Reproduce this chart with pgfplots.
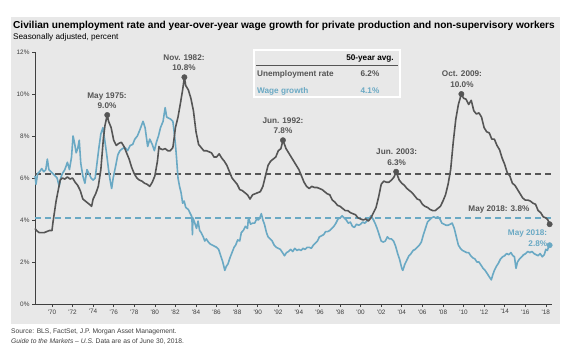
\documentclass[border=0pt]{standalone}
\usepackage{fontspec}
\setmainfont{Liberation Sans}
\usepackage{pgfplots}
\pgfplotsset{compat=1.18}
\definecolor{panel}{HTML}{E8E8E8}
\definecolor{dgray}{HTML}{555555}
\definecolor{wblue}{HTML}{6AA9C4}
\definecolor{tgray}{HTML}{404040}

\pgfplotstableread{
x y
1968.35 3.6
1968.5 3.5
1968.75 3.4
1969.0 3.4
1969.25 3.4
1969.5 3.45
1969.75 3.5
1970.0 3.5
1970.1 3.9
1970.25 4.4
1970.4 4.9
1970.6 5.4
1970.8 5.9
1971.0 6.0
1971.25 5.95
1971.5 6.05
1971.75 5.95
1972.0 6.0
1972.25 5.8
1972.5 5.65
1972.75 5.4
1973.0 5.0
1973.25 4.9
1973.5 4.8
1973.75 4.7
1973.85 4.65
1974.0 5.0
1974.25 5.25
1974.5 5.6
1974.75 6.4
1975.0 7.9
1975.15 8.5
1975.37 9.0
1975.5 8.7
1975.75 8.4
1976.0 7.8
1976.25 7.55
1976.5 7.65
1976.75 7.7
1977.0 7.5
1977.25 7.2
1977.5 6.9
1977.75 6.5
1978.0 6.2
1978.25 6.0
1978.5 5.9
1978.75 5.85
1979.0 5.75
1979.25 5.7
1979.5 5.6
1979.75 5.8
1980.0 6.1
1980.25 6.8
1980.4 7.5
1980.5 7.4
1980.75 7.35
1981.0 7.4
1981.25 7.3
1981.5 7.3
1981.75 7.45
1981.9 8.0
1982.0 8.4
1982.25 8.9
1982.5 9.6
1982.7 10.2
1982.87 10.8
1983.0 10.4
1983.25 10.2
1983.5 9.8
1983.75 9.2
1984.0 8.2
1984.25 7.6
1984.5 7.45
1984.75 7.3
1985.0 7.3
1985.25 7.25
1985.5 7.2
1985.75 7.0
1986.0 7.0
1986.25 7.15
1986.5 6.95
1986.75 6.8
1987.0 6.6
1987.25 6.3
1987.5 6.0
1987.75 5.85
1988.0 5.7
1988.25 5.45
1988.5 5.4
1988.75 5.3
1989.0 5.2
1989.25 5.0
1989.5 5.2
1989.75 5.25
1990.0 5.3
1990.25 5.35
1990.5 5.6
1990.75 6.1
1991.0 6.6
1991.25 6.8
1991.5 6.9
1991.75 7.0
1992.0 7.3
1992.25 7.4
1992.45 7.8
1992.6 7.6
1992.75 7.4
1993.0 7.2
1993.25 7.0
1993.5 6.8
1993.75 6.6
1994.0 6.4
1994.25 6.1
1994.5 5.8
1994.75 5.6
1995.0 5.5
1995.25 5.6
1995.5 5.55
1995.75 5.55
1996.0 5.5
1996.25 5.45
1996.5 5.35
1996.75 5.25
1997.0 5.2
1997.25 4.95
1997.5 4.85
1997.75 4.7
1998.0 4.65
1998.25 4.55
1998.5 4.45
1998.75 4.45
1999.0 4.35
1999.25 4.3
1999.5 4.25
1999.75 4.1
2000.0 4.05
2000.25 4.0
2000.5 4.05
2000.75 3.95
2001.0 4.1
2001.25 4.35
2001.5 4.6
2001.75 5.1
2002.0 5.7
2002.25 5.85
2002.5 5.8
2002.75 5.8
2003.0 5.9
2003.25 6.05
2003.45 6.3
2003.6 6.1
2003.75 5.9
2004.0 5.75
2004.25 5.65
2004.5 5.5
2004.75 5.4
2005.0 5.3
2005.25 5.15
2005.5 5.0
2005.75 4.95
2006.0 4.75
2006.25 4.65
2006.5 4.6
2006.75 4.5
2007.0 4.45
2007.25 4.45
2007.5 4.55
2007.75 4.65
2008.0 4.9
2008.25 5.2
2008.5 5.7
2008.75 6.4
2009.0 7.7
2009.25 8.8
2009.5 9.5
2009.79 10.0
2010.0 9.8
2010.25 9.75
2010.5 9.5
2010.75 9.7
2011.0 9.2
2011.25 9.05
2011.5 9.1
2011.75 8.9
2012.0 8.4
2012.25 8.2
2012.5 8.15
2012.75 7.85
2013.0 7.85
2013.25 7.55
2013.5 7.35
2013.75 6.95
2014.0 6.65
2014.25 6.25
2014.5 6.1
2014.75 5.75
2015.0 5.65
2015.25 5.45
2015.5 5.25
2015.75 5.05
2016.0 4.95
2016.25 4.95
2016.5 4.9
2016.75 4.8
2017.0 4.75
2017.25 4.45
2017.5 4.35
2017.75 4.15
2018.0 4.1
2018.2 4.0
2018.37 3.8
}\unemp

\pgfplotstableread{
x y
1968.35 6.1
1968.45 5.7
1968.6 6.2
1968.8 6.3
1969.0 6.45
1969.2 6.3
1969.4 6.4
1969.55 6.9
1969.7 6.4
1969.9 6.3
1970.1 6.2
1970.3 6.1
1970.5 6.0
1970.7 5.6
1970.85 6.0
1971.0 6.2
1971.25 6.4
1971.5 6.75
1971.7 6.4
1971.9 7.0
1972.05 8.0
1972.2 7.65
1972.35 7.2
1972.5 7.4
1972.65 7.8
1972.8 6.7
1973.0 6.1
1973.2 5.75
1973.4 6.4
1973.6 6.2
1973.8 6.0
1974.0 5.9
1974.2 6.0
1974.4 6.8
1974.55 7.4
1974.75 8.1
1974.95 8.4
1975.1 7.9
1975.3 7.2
1975.5 6.4
1975.65 5.9
1975.8 5.5
1975.95 6.0
1976.2 6.6
1976.4 7.1
1976.6 7.3
1976.85 7.4
1977.1 7.45
1977.35 7.3
1977.6 7.55
1977.85 7.6
1978.05 7.85
1978.3 8.0
1978.55 8.3
1978.85 8.7
1979.05 8.4
1979.3 7.5
1979.5 7.85
1979.75 7.6
1979.95 7.3
1980.15 7.7
1980.35 8.0
1980.55 8.4
1980.8 8.7
1981.0 9.35
1981.15 8.9
1981.35 8.85
1981.55 8.8
1981.75 8.7
1981.85 8.3
1982.0 7.6
1982.1 7.0
1982.25 6.0
1982.4 5.6
1982.55 5.3
1982.7 4.8
1982.85 4.9
1983.0 4.6
1983.25 4.5
1983.45 4.3
1983.6 4.15
1983.65 3.3
1983.7 4.1
1983.85 3.9
1984.05 3.6
1984.2 3.95
1984.35 3.5
1984.5 3.4
1984.7 3.2
1984.85 3.0
1985.0 3.1
1985.2 2.95
1985.4 2.85
1985.6 2.8
1985.8 2.75
1986.0 2.7
1986.2 2.6
1986.4 2.3
1986.6 2.0
1986.8 1.6
1986.95 1.8
1987.1 1.9
1987.3 2.2
1987.5 2.45
1987.7 2.7
1987.85 2.8
1988.05 3.05
1988.25 3.0
1988.4 3.4
1988.6 3.5
1988.8 3.7
1989.0 3.6
1989.1 4.1
1989.3 3.8
1989.5 3.85
1989.7 3.85
1989.9 4.05
1990.05 4.0
1990.2 4.1
1990.35 4.3
1990.5 4.0
1990.65 3.8
1990.85 3.4
1991.0 3.2
1991.2 3.1
1991.4 3.0
1991.6 2.8
1991.8 2.7
1992.0 2.65
1992.2 2.6
1992.4 2.45
1992.6 2.3
1992.8 2.45
1993.0 2.5
1993.2 2.6
1993.4 2.5
1993.6 2.65
1993.8 2.55
1994.0 2.6
1994.2 2.55
1994.4 2.65
1994.6 2.6
1994.8 2.7
1995.0 2.7
1995.2 2.65
1995.4 2.8
1995.6 2.9
1995.8 3.0
1996.0 3.2
1996.2 3.25
1996.4 3.3
1996.6 3.45
1996.8 3.45
1997.0 3.5
1997.2 3.6
1997.4 3.7
1997.6 3.85
1997.8 4.05
1998.0 4.1
1998.2 4.2
1998.4 4.1
1998.6 4.0
1998.8 3.85
1999.0 3.9
1999.2 3.7
1999.4 3.65
1999.6 3.8
1999.8 3.75
2000.0 3.8
2000.2 3.9
2000.4 3.85
2000.6 3.95
2000.8 4.05
2001.0 4.2
2001.2 4.05
2001.4 3.85
2001.6 3.6
2001.8 3.3
2002.0 3.0
2002.2 2.95
2002.4 3.0
2002.6 3.2
2002.8 3.1
2003.0 3.1
2003.2 3.0
2003.4 2.75
2003.6 2.4
2003.8 2.1
2004.0 1.7
2004.1 1.6
2004.3 1.9
2004.5 2.1
2004.7 2.3
2004.9 2.4
2005.1 2.55
2005.3 2.6
2005.5 2.7
2005.7 2.8
2005.9 2.95
2006.1 3.3
2006.3 3.6
2006.5 3.9
2006.7 4.0
2006.9 4.1
2007.1 4.15
2007.3 4.1
2007.5 4.15
2007.7 4.05
2007.9 3.85
2008.1 3.8
2008.3 3.75
2008.5 3.75
2008.7 3.8
2008.9 3.85
2009.1 3.6
2009.3 3.2
2009.5 2.8
2009.7 2.65
2009.9 2.55
2010.1 2.5
2010.3 2.45
2010.5 2.45
2010.7 2.3
2010.9 2.2
2011.1 2.15
2011.3 2.0
2011.5 2.0
2011.7 1.85
2011.9 1.7
2012.1 1.6
2012.3 1.45
2012.5 1.3
2012.7 1.15
2012.85 1.4
2013.0 1.6
2013.2 1.8
2013.4 1.95
2013.6 2.15
2013.8 2.25
2014.0 2.3
2014.2 2.4
2014.4 2.35
2014.6 2.45
2014.8 2.3
2014.95 2.25
2015.1 1.7
2015.25 2.0
2015.45 2.15
2015.65 2.25
2015.85 2.35
2016.05 2.4
2016.25 2.5
2016.45 2.45
2016.65 2.5
2016.85 2.4
2017.05 2.35
2017.25 2.3
2017.45 2.4
2017.65 2.25
2017.85 2.35
2018.0 2.6
2018.15 2.55
2018.25 2.7
2018.37 2.8
}\wage

\begin{document}
\begin{tikzpicture}
\useasboundingbox (0pt,0pt) rectangle (573pt,-356pt);
\fill[white] (0pt,0pt) rectangle (573pt,-356pt);
\fill[panel] (11pt,-17pt) rectangle (560pt,-324pt);
\node[anchor=west,inner sep=0pt,font=\fontsize{10.1}{12}\selectfont\bfseries,text=black] at (13pt,-26pt) {Civilian unemployment rate and year-over-year wage growth for private production and non-supervisory workers};
\node[anchor=west,inner sep=0pt,font=\fontsize{8.2}{9}\selectfont,text=black] at (13pt,-37.5pt) {Seasonally adjusted, percent};

\begin{axis}[
  at={(35pt,-304pt)}, anchor=south west,
  scale only axis, width=517pt, height=252pt,
  xmin=1968.35, xmax=2018.6, ymin=0, ymax=12,
  axis x line*=bottom, axis y line*=left,
  axis line style={tgray, line width=0.8pt, -},
  xtick={1970,1972,1974,1976,1978,1980,1982,1984,1986,1988,1990,1992,1994,1996,1998,2000,2002,2004,2006,2008,2010,2012,2014,2016,2018},
  xticklabels={\textquotesingle70,\textquotesingle72,\textquotesingle74,\textquotesingle76,\textquotesingle78,\textquotesingle80,\textquotesingle82,\textquotesingle84,\textquotesingle86,\textquotesingle88,\textquotesingle90,\textquotesingle92,\textquotesingle94,\textquotesingle96,\textquotesingle98,\textquotesingle00,\textquotesingle02,\textquotesingle04,\textquotesingle06,\textquotesingle08,\textquotesingle10,\textquotesingle12,\textquotesingle14,\textquotesingle16,\textquotesingle18},
  ytick={0,2,4,6,8,10,12},
  yticklabels={0\%,2\%,4\%,6\%,8\%,10\%,12\%},
  tick align=outside, major tick length=3pt,
  tick style={tgray, line width=0.6pt},
  ticklabel style={font=\fontsize{6.4}{7}\selectfont, text=tgray},
  xticklabel style={yshift=1pt},
  yticklabel style={xshift=1pt},
  clip=false,
]
\addplot[dgray, line width=1.5pt, dash pattern=on 6pt off 4pt] coordinates {(1968.35,6.2) (2018.6,6.2)};
\addplot[wblue, line width=1.5pt, dash pattern=on 6pt off 4pt] coordinates {(1968.35,4.1) (2018.6,4.1)};
\addplot[wblue, line width=1.6pt, line join=round] table[x=x,y=y] {\wage};
\addplot[dgray, line width=1.6pt, line join=round] table[x=x,y=y] {\unemp};
\addplot[only marks, mark=*, mark size=2.7pt, dgray] coordinates {(1975.37,9.0) (1982.87,10.8) (1992.45,7.8) (2003.45,6.3) (2009.79,10.0) (2018.37,3.8)};
\addplot[only marks, mark=*, mark size=2.7pt, wblue] coordinates {(2018.37,2.8)};

\begin{scope}[every node/.style={font=\fontsize{8.2}{10.5}\selectfont\bfseries, text=dgray, align=center, inner sep=0pt}]
\node at (axis cs:1975.35,9.69) {May 1975:\\9.0\%};
\node at (axis cs:1982.83,11.5) {Nov. 1982:\\10.8\%};
\node at (axis cs:1992.45,8.48) {Jun. 1992:\\7.8\%};
\node at (axis cs:2003.5,7.0) {Jun. 2003:\\6.3\%};
\node at (axis cs:2009.85,10.71) {Oct. 2009:\\10.0\%};
\node at (axis cs:2013.44,4.48) {May 2018: 3.8\%};
\node[anchor=east, align=right, text=wblue] at (axis cs:2018.15,3.14) {May 2018:\\2.8\%};
\end{scope}
\end{axis}

\draw[white, line width=1.5pt, fill=panel] (254pt,-50pt) rectangle (400pt,-97pt);
\draw[dgray, line width=0.8pt] (256pt,-65pt) -- (398pt,-65pt);
\begin{scope}[every node/.style={font=\fontsize{8.2}{10}\selectfont\bfseries, inner sep=0pt}]
\node[text=black] at (370pt,-59pt) {50-year avg.};
\node[anchor=west, text=dgray] at (257pt,-74pt) {Unemployment rate};
\node[text=dgray] at (370pt,-74pt) {6.2\%};
\node[anchor=west, text=wblue] at (257pt,-91pt) {Wage growth};
\node[text=wblue] at (370pt,-91pt) {4.1\%};
\end{scope}

\node[anchor=west,inner sep=0pt,font=\fontsize{6.7}{7.5}\selectfont,text=tgray] at (11pt,-332pt) {Source: BLS, FactSet, J.P. Morgan Asset Management.};
\node[anchor=west,inner sep=0pt,font=\fontsize{6.7}{7.5}\selectfont,text=tgray] at (11pt,-341pt) {\textit{Guide to the Markets – U.S.} Data are as of June 30, 2018.};
\end{tikzpicture}
\end{document}
